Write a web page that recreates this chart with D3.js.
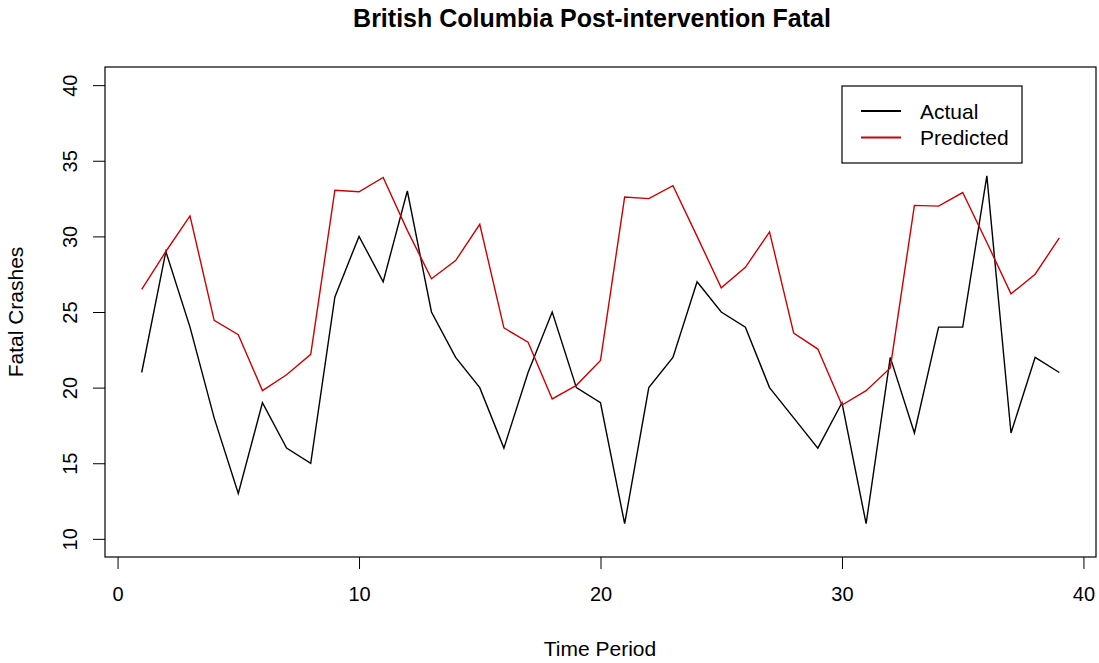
<!DOCTYPE html>
<html>
<head>
<meta charset="utf-8">
<script src="https://cdn.jsdelivr.net/npm/d3@7"></script>
<style>
  body { margin: 0; background: #fff; }
  svg { display: block; font-family: "Liberation Sans", Arial, sans-serif; }
</style>
</head>
<body>
<div id="chart"></div>
<script>
// data
var periods = [1, 2, 3, 4, 5, 6, 7, 8, 9, 10, 11, 12, 13, 14, 15, 16, 17, 18, 19, 20,
  21, 22, 23, 24, 25, 26, 27, 28, 29, 30, 31, 32, 33, 34, 35, 36, 37, 38, 39];
var actual = [21, 29, 24, 18, 13, 19, 16, 15, 26, 30, 27, 33, 25, 22, 20, 16, 21, 25, 20, 19,
  11, 20, 22, 27, 25, 24, 20, 18, 16, 19, 11, 22, 17, 24, 24, 34, 17, 22, 21];
var predicted = [26.5, 29.0, 31.35, 24.45, 23.5, 19.8, 20.85, 22.2, 33.05, 32.95, 33.9, 30.4, 27.2,
  28.4, 30.8, 23.95, 23.0, 19.25, 20.15, 21.8, 32.6, 32.5, 33.35, 30.0, 26.6, 27.95, 30.3,
  23.6, 22.55, 18.85, 19.8, 21.3, 32.05, 32.0, 32.9, 29.6, 26.2, 27.5, 29.9];
var seriesNames = ["Actual", "Predicted"];
var seriesColors = ["#000000", "#cd0000"];
var xTicks = [0, 10, 20, 30, 40];
var yTicks = [10, 15, 20, 25, 30, 35, 40];

// layout (plot box edges)
var width = 1099, height = 663;
var boxLeft = 105, boxRight = 1096, boxTop = 67, boxBottom = 557;

var svg = d3.select('#chart').append('svg')
  .attr('width', width)
  .attr('height', height);

// R style ranges (4% padding)
var x = d3.scaleLinear().domain([-0.52, 40.52]).range([boxLeft, boxRight]);
var y = d3.scaleLinear().domain([8.8, 41.2]).range([boxBottom, boxTop]);

// title
svg.append('text')
  .attr('x', 592).attr('y', 27)
  .attr('text-anchor', 'middle')
  .style('font-size', '25px').style('font-weight', 'bold')
  .text('British Columbia Post-intervention Fatal');

// x axis
var gx = svg.append('g')
  .attr('transform', 'translate(0,' + boxBottom + ')')
  .call(d3.axisBottom(x).tickValues(xTicks).tickSize(12).tickSizeOuter(0).tickPadding(18));
gx.select('.domain').remove();
gx.selectAll('line').attr('stroke', '#000');
gx.selectAll('text').style('font-size', '20px').attr('fill', '#000');

// y axis, labels turned like R does
var gy = svg.append('g')
  .attr('transform', 'translate(' + boxLeft + ',0)')
  .call(d3.axisLeft(y).tickValues(yTicks).tickSize(12).tickSizeOuter(0));
gy.select('.domain').remove();
gy.selectAll('line').attr('stroke', '#000');
gy.selectAll('text')
  .attr('transform', 'rotate(-90)')
  .attr('x', 0).attr('y', -28).attr('dy', 0)
  .attr('text-anchor', 'middle')
  .style('font-size', '20px').attr('fill', '#000');

// axis titles
svg.append('text')
  .attr('x', 600).attr('y', 656)
  .attr('text-anchor', 'middle')
  .style('font-size', '21px')
  .text('Time Period');

svg.append('text')
  .attr('transform', 'translate(23,312) rotate(-90)')
  .attr('text-anchor', 'middle')
  .style('font-size', '21px')
  .text('Fatal Crashes');

// the lines
var series = [actual, predicted];
var line = d3.line()
  .x(function(d, i) { return x(periods[i]); })
  .y(function(d) { return y(d); });

svg.selectAll('path.series')
  .data(series)
  .enter().append('path')
  .attr('class', 'series')
  .attr('d', line)
  .attr('fill', 'none')
  .attr('stroke', function(d, i) { return seriesColors[i]; })
  .attr('stroke-width', 1.4)
  .attr('stroke-linejoin', 'miter');

// plot box
svg.append('rect')
  .attr('x', boxLeft).attr('y', boxTop)
  .attr('width', boxRight - boxLeft).attr('height', boxBottom - boxTop)
  .attr('fill', 'none').attr('stroke', '#000').attr('stroke-width', 1.2);

// legend
var legend = svg.append('g').attr('transform', 'translate(842,86)');
legend.append('rect')
  .attr('width', 180).attr('height', 77)
  .attr('fill', '#fff').attr('stroke', '#000').attr('stroke-width', 1.2);

var item = legend.selectAll('g.item')
  .data(seriesNames)
  .enter().append('g')
  .attr('class', 'item')
  .attr('transform', function(d, i) { return 'translate(0,' + (25 + i * 26.5) + ')'; });

item.append('line')
  .attr('x1', 19).attr('x2', 59)
  .attr('stroke', function(d, i) { return seriesColors[i]; })
  .attr('stroke-width', 2.2);

item.append('text')
  .attr('x', 78).attr('dy', '0.36em')
  .style('font-size', '21px')
  .text(function(d) { return d; });
</script>
</body>
</html>
